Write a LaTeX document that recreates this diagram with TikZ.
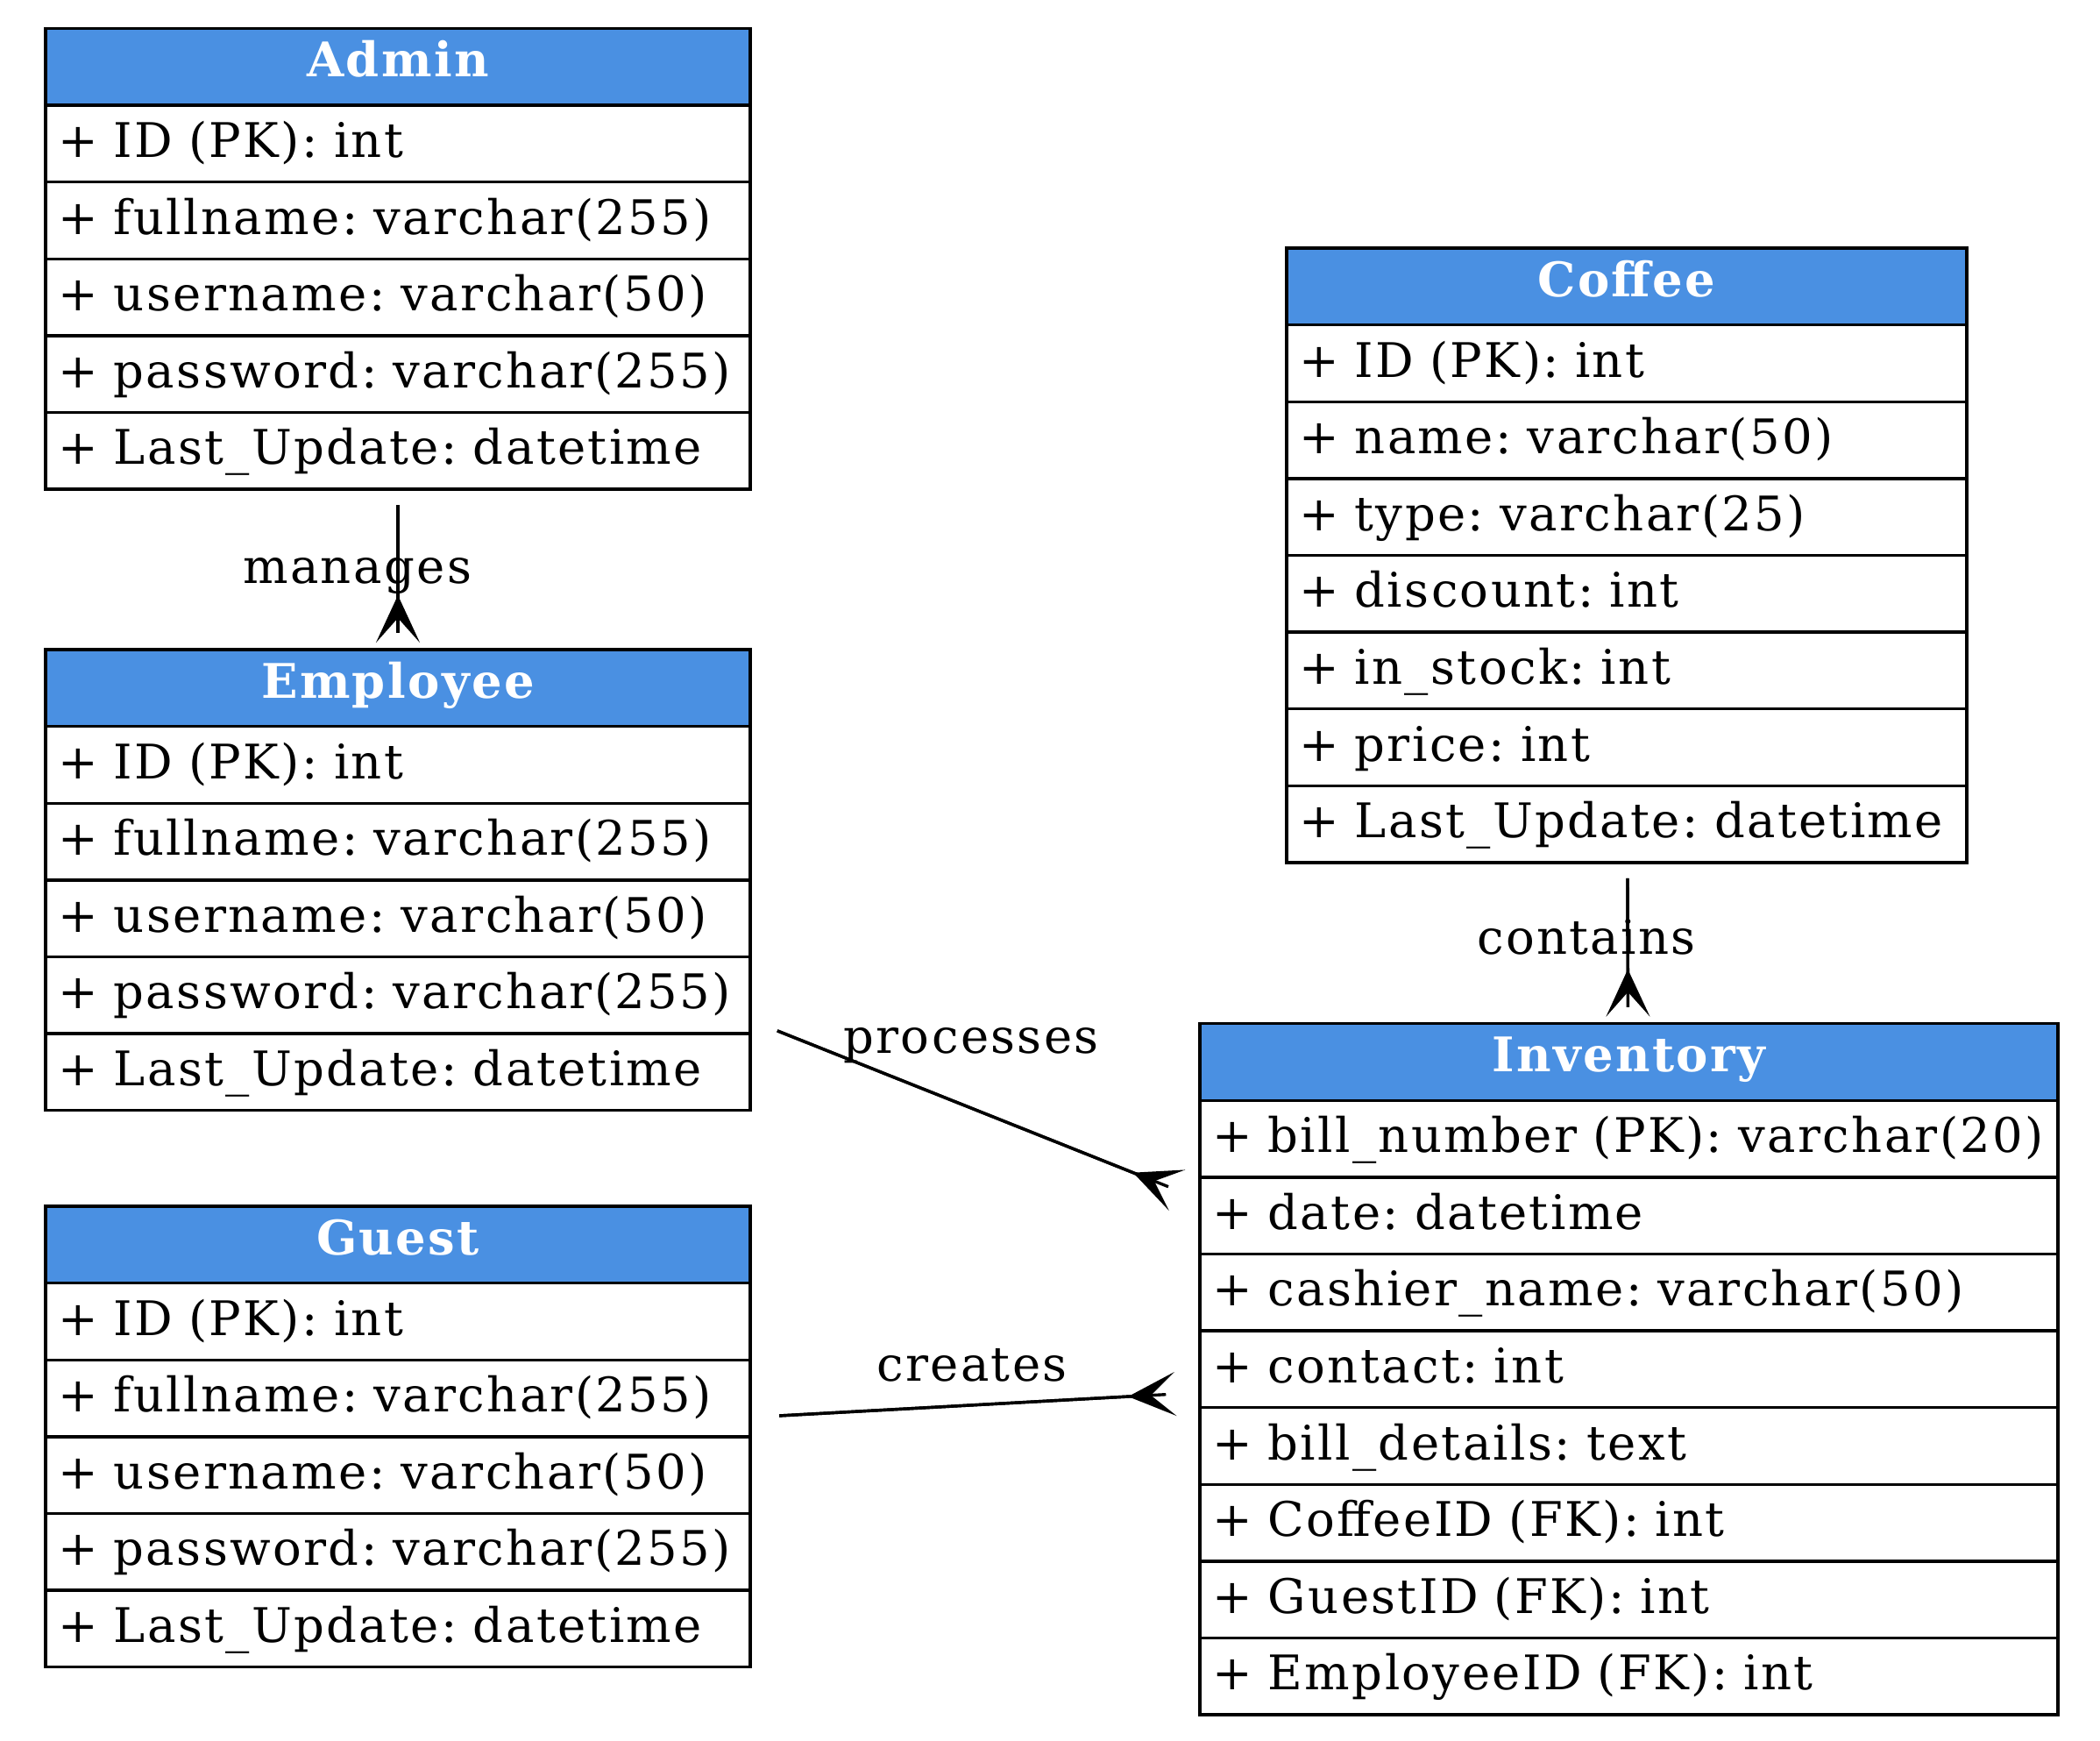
\documentclass[tikz,border=0pt]{standalone}
\usepackage{fontspec}
\setmainfont{DejaVu Serif}[Scale=1.36, LetterSpace=4.4]
\usetikzlibrary{positioning,fit,arrows.meta}
\definecolor{headblue}{HTML}{4A90E2}
\frenchspacing

\begin{document}
\begin{tikzpicture}[line width=0.85pt]
\tikzstyle{head}=[draw, fill=headblue, text=white, font=\bfseries, align=center, anchor=north west, outer sep=0pt, inner xsep=3.5pt, inner ysep=1pt, minimum height=21.9pt, text height=10pt, text depth=4.4pt];
\tikzstyle{row}=[draw, fill=white, align=left, outer sep=0pt, inner xsep=3.5pt, inner ysep=1pt, minimum height=21.9pt, text height=10pt, text depth=2.2pt];
\tikzstyle{table}=[inner sep=0pt, outer sep=0pt];
\tikzstyle{rel}=[-{Stealth[reversed, length=13.5pt, width=12.5pt, inset=7pt]}];
\tikzstyle{vrel}=[rel, shorten <=4.5pt, shorten >=2pt, postaction={draw, -, shorten >=4.7pt}];
\tikzstyle{hrel}=[rel, shorten <=8.3pt, shorten >=7pt, postaction={draw, -, shorten >=9.7pt}];
\tikzstyle{lbl}=[anchor=base, inner sep=0pt];
\useasboundingbox (0,0) rectangle (599pt,-496.25pt);

\node[head, text width=194pt] (admin-0) at (13pt,-8.1pt) {Admin};
\foreach \t [count=\i, remember=\i as \j (initially 0)] in {ID (PK): int, fullname: varchar(255), username: varchar(50), password: varchar(255), Last\_Update: datetime}
	\node[row, text width=194pt, below=0pt of admin-\j] (admin-\i) {+ \t};
\node[table, fit=(admin-0)(admin-5)] (admin) {};

\node[head, text width=194pt] (employee-0) at (13pt,-185.25pt) {Employee};
\foreach \t [count=\i, remember=\i as \j (initially 0)] in {ID (PK): int, fullname: varchar(255), username: varchar(50), password: varchar(255), Last\_Update: datetime}
	\node[row, text width=194pt, below=0pt of employee-\j] (employee-\i) {+ \t};
\node[table, fit=(employee-0)(employee-5)] (employee) {};

\node[head, text width=194pt] (guest-0) at (13pt,-344pt) {Guest};
\foreach \t [count=\i, remember=\i as \j (initially 0)] in {ID (PK): int, fullname: varchar(255), username: varchar(50), password: varchar(255), Last\_Update: datetime}
	\node[row, text width=194pt, below=0pt of guest-\j] (guest-\i) {+ \t};
\node[table, fit=(guest-0)(guest-5)] (guest) {};

\node[head, text width=187pt] (coffee-0) at (367pt,-70.75pt) {Coffee};
\foreach \t [count=\i, remember=\i as \j (initially 0)] in {ID (PK): int, name: varchar(50), type: varchar(25), discount: int, in\_stock: int, price: int, Last\_Update: datetime}
	\node[row, text width=187pt, below=0pt of coffee-\j] (coffee-\i) {+ \t};
\node[table, fit=(coffee-0)(coffee-7)] (coffee) {};

\node[head, text width=237.75pt] (inventory-0) at (342.25pt,-291.9pt) {Inventory};
\foreach \t [count=\i, remember=\i as \j (initially 0)] in {bill\_number (PK): varchar(20), date: datetime, cashier\_name: varchar(50), contact: int, bill\_details: text, CoffeeID (FK): int, GuestID (FK): int, EmployeeID (FK): int}
	\node[row, text width=237.75pt, below=0pt of inventory-\j] (inventory-\i) {+ \t};
\node[table, fit=(inventory-0)(inventory-8)] (inventory) {};

\draw[vrel] (admin) -- (employee) node[lbl, midway, xshift=-11.6pt, yshift=-3.9pt] {manages};
\draw[vrel] (coffee) -- (inventory) node[lbl, midway, xshift=-11.8pt, yshift=-3.3pt] {contains};
\draw[hrel] (employee) -- (inventory) node[lbl, midway, xshift=-1.1pt, yshift=16.1pt] {processes};
\draw[hrel] (guest) -- (inventory) node[lbl, midway, xshift=-0.9pt, yshift=6.8pt] {creates};
\end{tikzpicture}
\end{document}
